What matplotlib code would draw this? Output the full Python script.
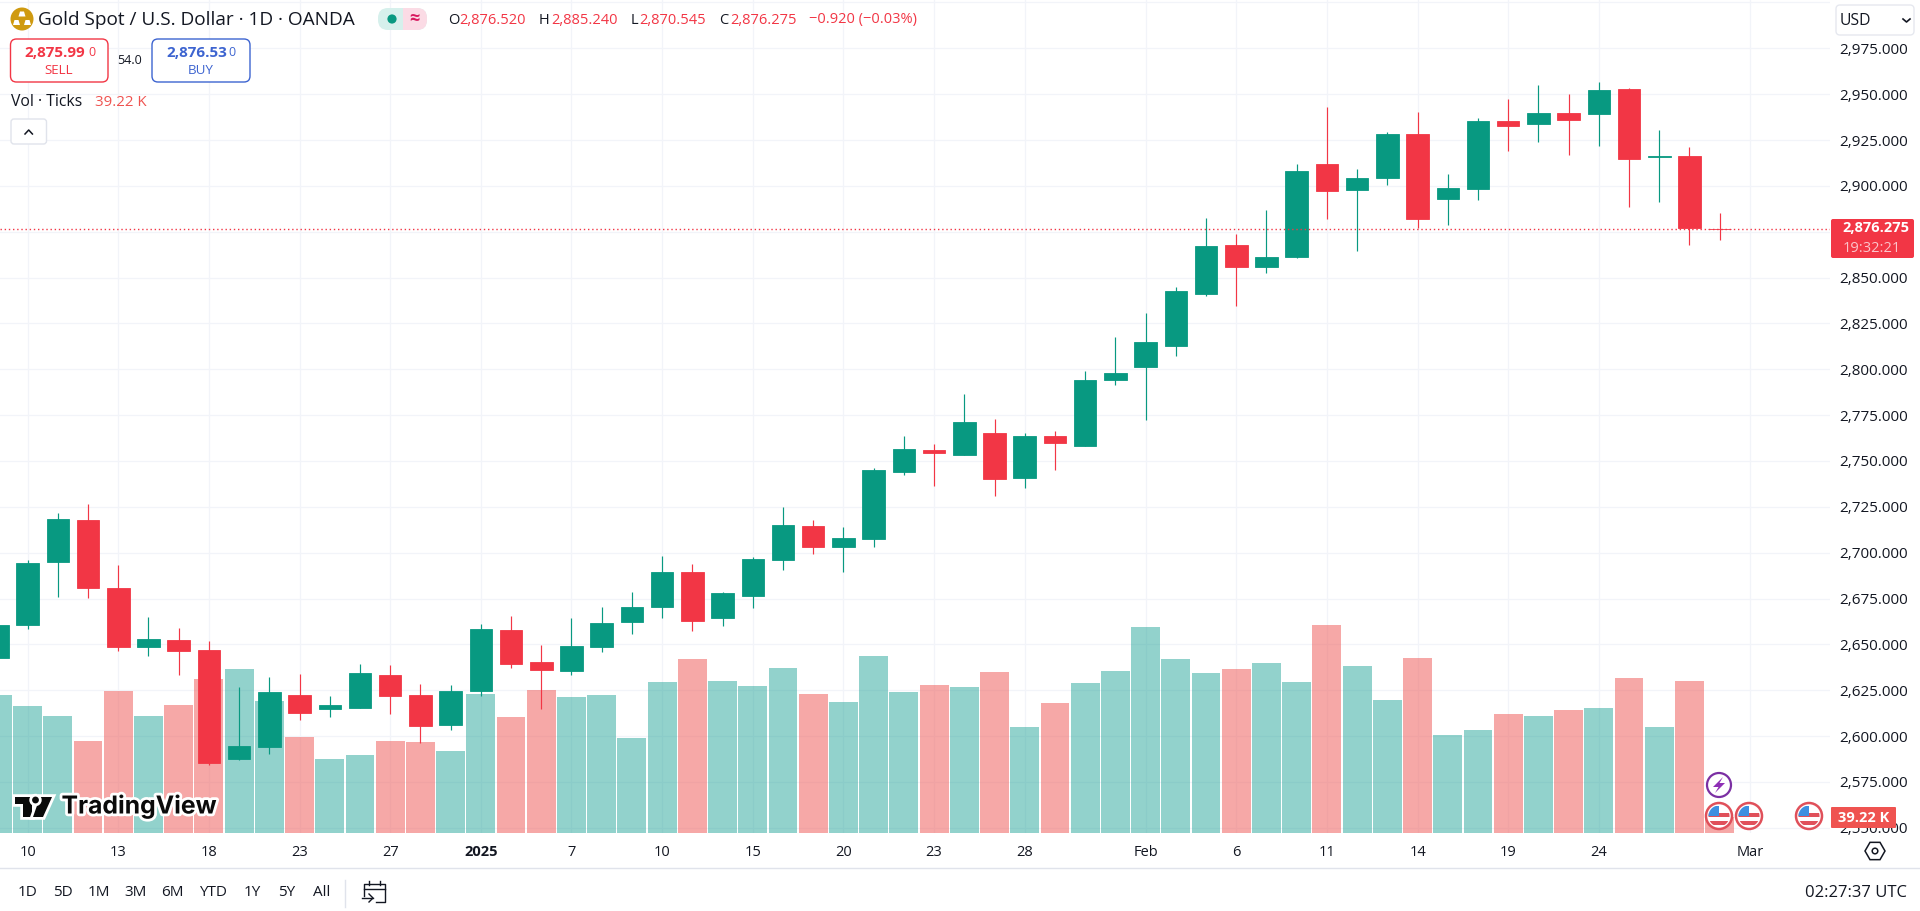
import numpy as np
import matplotlib
matplotlib.use("Agg")
import matplotlib.pyplot as plt
from matplotlib.patches import Circle, FancyBboxPatch, Polygon, Rectangle, RegularPolygon
import matplotlib.patheffects as pe

plt.rcParams['font.family'] = ['Open Sans', 'DejaVu Sans']

# daily candles, first one is cut by the left edge
opens = [2642.7, 2660.5, 2695.1, 2717.8, 2680.9, 2648.7, 2652.4, 2646.9, 2587.5, 2594.0,
         2622.4, 2614.7, 2615.3, 2633.3, 2622.4, 2606.0, 2624.6, 2657.8, 2640.4, 2635.5,
         2648.5, 2662.2, 2670.4, 2689.5, 2664.4, 2676.4, 2696.0, 2714.6, 2703.1, 2707.5,
         2744.0, 2756.0, 2753.3, 2765.3, 2740.7, 2763.6, 2758.2, 2794.2, 2801.3, 2812.7,
         2841.1, 2867.8, 2855.8, 2861.2, 2911.9, 2897.8, 2904.3, 2928.3, 2892.9, 2898.3,
         2935.4, 2933.8, 2939.8, 2939.2, 2952.8, 2915.8, 2916.3, 2876.52]
highs = [2661.4, 2696.0, 2721.6, 2726.5, 2693.3, 2664.9, 2658.7, 2651.6, 2626.7, 2632.2,
         2633.8, 2621.8, 2639.3, 2638.7, 2628.4, 2627.8, 2661.1, 2665.4, 2649.6, 2664.4,
         2670.4, 2678.5, 2698.2, 2693.9, 2678.6, 2697.7, 2724.9, 2717.8, 2714.0, 2746.2,
         2763.6, 2759.3, 2786.5, 2772.9, 2765.3, 2766.4, 2799.1, 2817.6, 2830.7, 2845.1,
         2882.5, 2873.8, 2886.9, 2911.9, 2943.0, 2909.2, 2929.4, 2940.3, 2906.5, 2937.0,
         2947.4, 2955.0, 2950.1, 2956.7, 2953.4, 2930.5, 2921.2, 2885.24]
lows = [2642.2, 2658.5, 2675.8, 2675.3, 2646.4, 2643.8, 2633.5, 2584.2, 2586.9, 2590.2,
        2608.7, 2610.4, 2615.3, 2612.0, 2596.2, 2603.3, 2621.8, 2637.1, 2614.7, 2633.3,
        2645.8, 2655.6, 2664.4, 2657.3, 2660.0, 2669.9, 2690.6, 2699.3, 2689.5, 2703.1,
        2742.4, 2736.4, 2753.3, 2730.9, 2735.3, 2745.1, 2758.2, 2791.5, 2772.4, 2807.3,
        2840.0, 2834.5, 2852.5, 2860.7, 2882.0, 2864.5, 2900.5, 2877.1, 2878.7, 2892.3,
        2919.0, 2923.9, 2916.9, 2921.8, 2888.5, 2891.2, 2867.8, 2870.545]
closes = [2660.5, 2694.3, 2718.3, 2680.9, 2648.7, 2652.9, 2646.4, 2585.3, 2594.6, 2624.0,
          2612.6, 2616.9, 2634.4, 2621.8, 2605.5, 2624.6, 2658.4, 2639.3, 2636.0, 2649.1,
          2661.6, 2670.4, 2689.5, 2662.8, 2678.0, 2696.6, 2715.1, 2703.1, 2708.0, 2745.1,
          2756.6, 2754.4, 2771.3, 2740.2, 2763.6, 2759.8, 2794.2, 2798.0, 2814.9, 2842.7,
          2867.2, 2855.8, 2861.2, 2908.1, 2897.2, 2904.3, 2928.3, 2882.0, 2898.9, 2935.4,
          2932.7, 2939.8, 2935.9, 2952.3, 2914.7, 2916.3, 2877.1, 2876.275]
# ticks, in thousands
volumes = [338, 311, 287, 225, 348, 287, 314, 377, 402, 323,
           235, 181, 191, 225, 223, 201, 341, 284, 350, 333,
           338, 233, 370, 426, 372, 360, 404, 341, 321, 434,
           345, 363, 358, 394, 260, 319, 368, 397, 505, 426,
           392, 402, 417, 370, 510, 409, 326, 429, 240, 252,
           292, 287, 301, 306, 380, 260, 372, 39.22]

date_ticks = [1, 4, 7, 10, 13, 16, 19, 22, 25, 28, 31, 34, 38, 41, 44, 47, 50, 53, 58]
date_labels = ['10', '13', '18', '23', '27', '2025', '7', '10', '15', '20',
               '23', '28', 'Feb', '6', '11', '14', '19', '24', 'Mar']
price_ticks = list(range(2550, 3001, 25))
price_labels = ['{:,.3f}'.format(p) for p in price_ticks]
price_labels[-1] = ''

UP = '#089981'
DOWN = '#f23645'
VOL_UP = '#26a69a'
VOL_DOWN = '#ef5350'
GRID = '#f2f4f9'
INK = '#131722'

W, H = 1920, 911
AX_W, AX_H = 1830, 833
rect = [0, (H - AX_H) / H, AX_W / W, AX_H / H]
XLIM = (0.0865, 60.65)
YLIM = (2547.14, 3001.34)

fig = plt.figure(figsize=(W / 100, H / 100), dpi=100, facecolor='white')

# grid and axis labels at the back
ax_bg = fig.add_axes(rect, zorder=1)
ax_bg.set_xlim(*XLIM)
ax_bg.set_ylim(*YLIM)
ax_bg.yaxis.tick_right()
ax_bg.set_yticks(price_ticks, price_labels, fontsize=11, color=INK)
ax_bg.set_xticks(date_ticks, date_labels, fontsize=10.5, color=INK)
ax_bg.get_xticklabels()[5].set_fontweight('bold')
ax_bg.tick_params(axis='both', length=0)
ax_bg.tick_params(axis='y', pad=7)
ax_bg.tick_params(axis='x', pad=9)
ax_bg.grid(True, color=GRID, lw=0.9)
ax_bg.set_axisbelow(True)
for s in ax_bg.spines.values():
    s.set_visible(False)

x = np.arange(len(opens))
o = np.array(opens)
c = np.array(closes)
rising = c >= o

# volume pane
ax_vol = fig.add_axes(rect, zorder=2)
ax_vol.patch.set_visible(False)
ax_vol.set_xlim(*XLIM)
ax_vol.set_ylim(0, 2041)
ax_vol.axis('off')
ax_vol.bar(x, volumes, width=0.955, color=[VOL_UP if r else VOL_DOWN for r in rising],
           alpha=0.5, linewidth=0)

# candles
ax = fig.add_axes(rect, zorder=3)
ax.patch.set_visible(False)
ax.set_xlim(*XLIM)
ax.set_ylim(*YLIM)
ax.axis('off')
cols = [UP if r else DOWN for r in rising]
ax.vlines(x, lows, highs, colors=cols, lw=0.85)
ax.bar(x, np.abs(c - o), bottom=np.minimum(o, c), width=0.745, color=cols,
       edgecolor=cols, linewidth=0.6)
ax.axhline(closes[-1], color=DOWN, lw=1.0, dashes=(1, 2))

# everything around the chart is drawn in pixel coordinates
ui = fig.add_axes([0, 0, 1, 1], zorder=5)
ui.patch.set_visible(False)
ui.set_xlim(0, W)
ui.set_ylim(H, 0)
ui.axis('off')


def txt(px, py, s, size=10.5, color=INK, ha='left', **kw):
    return ui.text(px, py, s, fontsize=size, color=color, ha=ha, va='center', **kw)


def box(x0, y0, x1, y1, ec, fc='white', r=6, lw=1.0):
    p = FancyBboxPatch((x0 + r, y0 + r), x1 - x0 - 2 * r, y1 - y0 - 2 * r,
                       boxstyle='round,pad=%d,rounding_size=%d' % (r, r),
                       ec=ec, fc=fc, lw=lw)
    ui.add_patch(p)
    return p


# header
ui.add_patch(Circle((22, 19), 11.5, fc='#cf9a10', ec='none'))
for bx, by in [(22, 13.5), (16.5, 22), (27.5, 22)]:
    ui.add_patch(Polygon([(bx - 3.5, by + 3), (bx - 2, by - 2), (bx + 2, by - 2), (bx + 3.5, by + 3)],
                         fc='white', ec='none'))
txt(38, 20, 'Gold Spot / U.S. Dollar · 1D · OANDA', size=13.7)

pill = box(378, 8, 427, 30, 'none', fc='#d6f0ec', r=10)
pink = Rectangle((402.5, 8), 25, 22, fc='#fbdbe5', ec='none')
ui.add_patch(pink)
pink.set_clip_path(pill)
ui.add_patch(Circle((392, 19), 4.6, fc=UP, ec='none'))
txt(414, 19, '≈', size=13, color='#d81b60', ha='center', fontweight='bold')

for px, s in [(448, 'O'), (539, 'H'), (631, 'L'), (719, 'C')]:
    txt(px, 20, s, size=10.5)
for px, s in [(459, '2,876.520'), (551, '2,885.240'), (639, '2,870.545'), (730, '2,876.275'),
              (809, '−0.920 (−0.03%)')]:
    txt(px, 20, s, size=10.5, color=DOWN)

box(10.5, 39, 108, 82, DOWN)
box(152, 39, 250, 82, '#3d64d0')
txt(24, 53, '2,875.99', size=11, color=DOWN, fontweight='bold')
txt(88, 52, '0', size=9, color=DOWN)
txt(59, 70, 'SELL', size=9.6, color=DOWN, ha='center')
txt(166, 53, '2,876.53', size=11, color='#3d64d0', fontweight='bold')
txt(228, 52, '0', size=9, color='#3d64d0')
txt(201, 70, 'BUY', size=9.6, color='#3d64d0', ha='center')
txt(130, 60, '54.0', size=9, ha='center')

txt(11, 102, 'Vol · Ticks', size=11.3)
txt(95, 102, '39.22 K', size=10.8, color=VOL_DOWN)
box(11, 119, 46.5, 144, '#e0e3eb', r=3)
ui.plot([25, 28.7, 32.4], [134, 130, 134], color=INK, lw=1.1)

# currency box
box(1836, 5, 1914, 35, '#e6e8ef', r=4)
txt(1840, 21, 'USD', size=11.3)
ui.plot([1903, 1906.5, 1910], [19, 22, 19], color=INK, lw=1.2)

# last price tag
box(1831, 219, 1914, 258, 'none', fc=DOWN, r=2)
txt(1842, 228.5, '2,876.275', size=10.5, color='white', fontweight='bold')
txt(1843, 248, '19:32:21', size=10.5, color='#fbc4ca')

# volume tag
box(1831, 807, 1896, 828, 'none', fc=VOL_DOWN, r=1)
txt(1863.5, 817.5, '39.22 K', size=10.5, color='white', ha='center', fontweight='bold')

# event icons
ui.add_patch(Circle((1719, 785), 12, fc='white', ec='#7b2fa3', lw=1.6))
ui.add_patch(Polygon([(1723, 777), (1713, 787), (1718.5, 787), (1715, 793), (1725, 783), (1719.5, 783)],
                     fc='#8e2fb5', ec='none'))
for fx in [1719, 1749, 1809]:
    ui.add_patch(Circle((fx, 816), 13, fc='white', ec='#e0505a', lw=1.8))
    clip = Circle((fx, 816), 10.5, transform=ui.transData)
    ui.add_patch(clip)
    clip.set_facecolor('white')
    clip.set_edgecolor('none')
    for sy, sh in [(813, 4), (821, 4)]:
        st = Rectangle((fx - 11, sy), 22, sh, fc='#e0505a', ec='none')
        ui.add_patch(st)
        st.set_clip_path(clip)
    blue = Rectangle((fx - 11, 805.5), 11, 10, fc='#3d8fe0', ec='none')
    ui.add_patch(blue)
    blue.set_clip_path(clip)

# logo
halo = [pe.withStroke(linewidth=4, foreground='white')]
for pts in ([(15, 797), (32, 797), (32, 817), (23, 817), (23, 804), (15, 804)],
            [(40, 797), (52, 797), (43, 817), (33, 817)]):
    ui.add_patch(Polygon(pts, fc='#0a0a0a', ec='none', path_effects=halo))
dot = Circle((35.5, 800), 3.4, fc='#0a0a0a', ec='none', path_effects=halo)
ui.add_patch(dot)
txt(61.5, 806, 'TradingView', size=17.8, color='#0a0a0a', family='Inter', fontweight='bold',
    path_effects=halo)

# bottom bar
ui.plot([0, W], [868, 868], color='#e0e3eb', lw=1.0)
for px, s in [(27.8, '1D'), (62.4, '5D'), (99, '1M'), (135.5, '3M'), (172, '6M'),
              (213, 'YTD'), (252.7, '1Y'), (286.5, '5Y'), (321.6, 'All')]:
    txt(px, 893, s, size=11, ha='center')
ui.plot([345, 345], [880, 907], color='#e0e3eb', lw=1.0)
ui.plot([364, 364, 385, 385, 376], [896, 884, 884, 902, 902], color=INK, lw=1.0)
ui.plot([364, 385], [889, 889], color=INK, lw=1.0)
ui.plot([369, 369], [881, 885], color=INK, lw=1.0)
ui.plot([380, 380], [881, 885], color=INK, lw=1.0)
ui.plot([362, 373], [898, 898], color=INK, lw=1.0)
ui.plot([369, 373, 369], [894, 898, 902], color=INK, lw=1.0)
txt(1907, 893, '02:27:37 UTC', size=12, ha='right')

ui.add_patch(RegularPolygon((1875, 851), 6, radius=10, orientation=np.pi / 2, fc='none', ec=INK, lw=1.1))
ui.add_patch(Circle((1875, 851), 2.8, fc='none', ec=INK, lw=1.1))

fig.savefig('out.png', dpi=100, facecolor='white')
